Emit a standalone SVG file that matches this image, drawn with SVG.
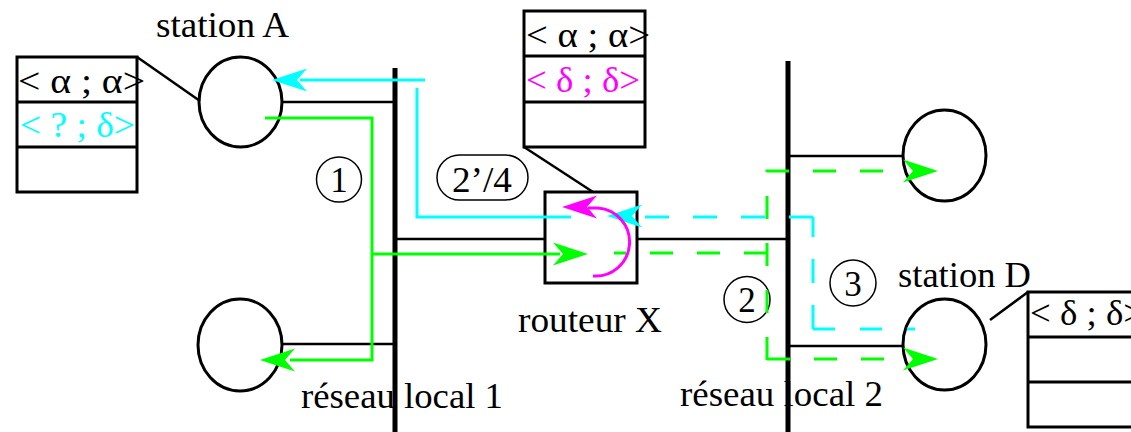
<svg xmlns="http://www.w3.org/2000/svg" xmlns:xlink="http://www.w3.org/1999/xlink" width="1131" height="432" viewBox="0 0 1131 432">
<style>
  text { font-family: "Liberation Serif", "Times New Roman", serif; font-size: 35px; fill: #000; }
  .st { fill: #fff; stroke: #000; stroke-width: 3; }
  .tb { fill: #fff; stroke: #000; stroke-width: 3; }
  .thin { fill: none; stroke: #000; stroke-width: 1.5; }
  .ln { fill: none; stroke: #000; stroke-width: 2.5; }
  .bus { fill: none; stroke: #000; stroke-width: 5; }
  .cy { fill: none; stroke: #00ffff; stroke-width: 3; }
  .gr { fill: none; stroke: #00ff00; stroke-width: 3; }
  .mg { fill: none; stroke: #ff00ff; stroke-width: 3; }
  .dash { stroke-dasharray: 23 24; }
  .c { fill: #00ffff; }
  .m { fill: #ff00ff; }
  .g { fill: #00ff00; }
  .mid { text-anchor: middle; }
</style>
<defs>
  <path id="ah" d="M0,0 L-35,-11.5 L-25,0 L-35,11.5 Z"/>
</defs>

<!-- labels -->
<g id="labels">
  <text x="156" y="37" textLength="133" lengthAdjust="spacingAndGlyphs">station A</text>
  <text x="898" y="287" textLength="133" lengthAdjust="spacingAndGlyphs">station D</text>
  <text x="518" y="332" textLength="144" lengthAdjust="spacingAndGlyphs">routeur X</text>
  <text x="301" y="408" textLength="202" lengthAdjust="spacingAndGlyphs">réseau local 1</text>
  <text x="680" y="406" textLength="203" lengthAdjust="spacingAndGlyphs">réseau local 2</text>
</g>

<!-- buses -->
<g id="bus1"><line class="bus" x1="395" y1="68" x2="395" y2="432"/></g>
<g id="bus2"><line class="bus" x1="788" y1="61" x2="788" y2="432"/></g>

<!-- table A -->
<g id="tableA">
  <rect class="tb" x="17" y="57" width="120" height="135"/>
  <line class="tb" x1="17" y1="102" x2="137" y2="102"/>
  <line class="tb" x1="17" y1="147" x2="137" y2="147"/>
  <text x="18" y="93" textLength="127" lengthAdjust="spacingAndGlyphs">&lt; α ; α&gt;</text>
  <text x="20" y="137" textLength="115" lengthAdjust="spacingAndGlyphs" style="fill:#00ffff">&lt; ? ; δ&gt;</text>
</g>

<!-- table X -->
<g id="tableX">
  <rect class="tb" x="524" y="11" width="121" height="136"/>
  <line class="tb" x1="524" y1="56" x2="645" y2="56"/>
  <line class="tb" x1="524" y1="102" x2="645" y2="102"/>
  <text x="526" y="47" textLength="124" lengthAdjust="spacingAndGlyphs">&lt; α ; α&gt;</text>
  <text x="526" y="92" textLength="114" lengthAdjust="spacingAndGlyphs" style="fill:#ff00ff">&lt; δ ; δ&gt;</text>
</g>

<!-- table D -->
<g id="tableD">
  <rect class="tb" x="1028" y="292" width="120" height="135"/>
  <line class="tb" x1="1028" y1="337" x2="1148" y2="337"/>
  <line class="tb" x1="1028" y1="382" x2="1148" y2="382"/>
  <text x="1030" y="325" textLength="114" lengthAdjust="spacingAndGlyphs">&lt; δ ; δ&gt;</text>
</g>

<!-- stations -->
<g id="stationA"><ellipse class="st" cx="240.5" cy="102" rx="41.5" ry="45"/></g>
<g id="stationB"><ellipse class="st" cx="240" cy="345" rx="42" ry="46"/></g>
<g id="stationC"><ellipse class="st" cx="944.5" cy="155.5" rx="41.5" ry="45.5"/></g>
<g id="stationD"><ellipse class="st" cx="944.5" cy="344.5" rx="41.5" ry="45.5"/></g>

<!-- router -->
<g id="router"><rect class="st" x="545" y="192" width="92" height="91"/></g>

<!-- step markers -->
<g id="step1"><circle class="thin" cx="339" cy="179.5" r="22.5"/><text class="mid" x="339" y="192">1</text></g>
<g id="step2"><circle class="thin" cx="747" cy="299.5" r="23"/><text class="mid" x="747" y="312">2</text></g>
<g id="step3"><circle class="thin" cx="853" cy="283" r="23"/><text class="mid" x="853" y="295.5">3</text></g>
<g id="step24"><rect class="thin" x="437" y="155" width="91" height="45" rx="22.5"/><text class="mid" x="482" y="192" textLength="60" lengthAdjust="spacingAndGlyphs">2’/4</text></g>

<!-- connectors -->
<g id="connectors">
  <!-- table links -->
  <line class="ln" x1="137" y1="57" x2="200" y2="101"/>
  <line class="ln" x1="524" y1="147" x2="593" y2="192"/>
  <line class="ln" x1="990" y1="320" x2="1028" y2="292"/>
  <!-- station to bus links -->
  <line class="ln" x1="282" y1="102" x2="395" y2="102"/>
  <line class="ln" x1="282" y1="344" x2="395" y2="344"/>
  <line class="ln" x1="395" y1="239" x2="545" y2="239"/>
  <line class="ln" x1="637" y1="239" x2="788" y2="239"/>
  <line class="ln" x1="788" y1="156" x2="903" y2="156"/>
  <line class="ln" x1="788" y1="346" x2="903" y2="346"/>

  <!-- green (1) -->
  <path class="gr" d="M265,118 H372 V360 H290"/>
  <use xlink:href="#ah" class="g" transform="translate(260,360) rotate(180)"/>
  <path class="gr" d="M372,254 H560"/>
  <use xlink:href="#ah" class="g" transform="translate(588,254)"/>

  <!-- green dashed (2) -->
  <path class="gr dash" d="M767,253 H614"/>
  <path class="gr dash" d="M767,360 V171 H905"/>
  <use xlink:href="#ah" class="g" transform="translate(938,171)"/>
  <path class="gr dash" d="M767,359 H905"/>
  <use xlink:href="#ah" class="g" transform="translate(938,359)"/>

  <!-- cyan dashed (3) -->
  <path class="cy" style="stroke-dasharray:22 25" d="M813,329 H915"/>
  <path class="cy" style="stroke-dasharray:24 22" d="M813,329 V217"/>
  <path class="cy" style="stroke-dasharray:24 24" d="M813,217 H640"/>
  <use xlink:href="#ah" class="c" transform="translate(607,216) rotate(180)"/>

  <!-- magenta turn in router -->
  <path class="mg" d="M593,276 A34,34 0 0 0 598,208 L588,208"/>
  <use xlink:href="#ah" class="m" transform="translate(562,207) rotate(180)"/>

  <!-- cyan solid (2'/4) -->
  <path class="cy" d="M571,217 H417 V88"/>
  <path class="cy" d="M425,80 H300"/>
  <use xlink:href="#ah" class="c" transform="translate(272,80) rotate(180)"/>
</g>
</svg>
